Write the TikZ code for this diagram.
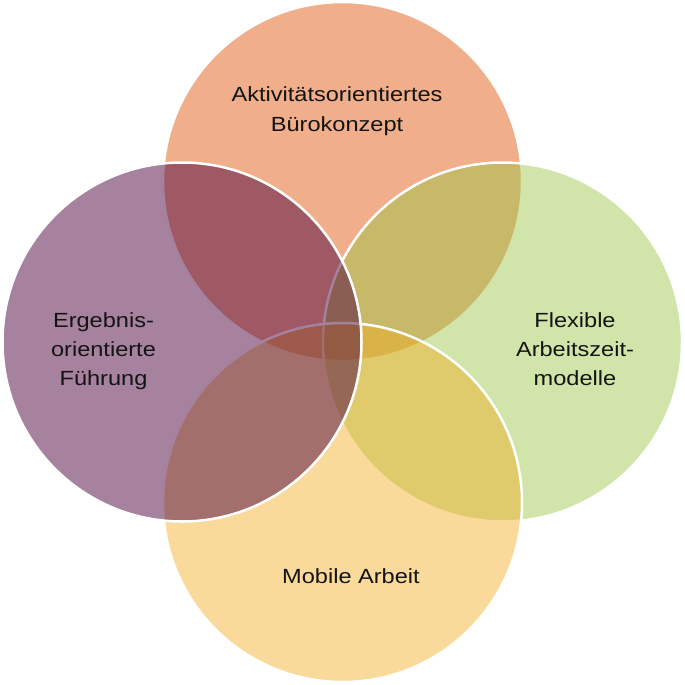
\documentclass[tikz,border=0pt]{standalone}
\usepackage{fontspec}
\setmainfont{Liberation Sans}[FakeStretch=1.15]
\definecolor{cOrange}{RGB}{240,174,138}
\definecolor{cGreen}{RGB}{153,197,66}
\definecolor{cYellow}{RGB}{242,173,33}
\definecolor{cPurple}{RGB}{77,5,63}
\definecolor{cText}{RGB}{20,20,20}
\tikzset{
  venn/.style={circle, minimum size=359pt, inner sep=0pt, draw=white, line width=2.5pt},
  lbl/.style={anchor=base, inner sep=0pt, text=cText, font=\fontsize{20.5}{29}\selectfont}
}
\begin{document}
\begin{tikzpicture}[x=1pt,y=-1pt]
\useasboundingbox (0,0) rectangle (685,685);
\node[venn, fill=cOrange] (top) at (342.5,181.5) {};
\node[venn, fill=cGreen, fill opacity=0.45] (right) at (502.5,342) {};
\node[venn, fill=cYellow, fill opacity=0.45] (bottom) at (342.5,502.5) {};
\node[venn, fill=cPurple, fill opacity=0.5] (left) at (182,342) {};
\node[lbl] (t1) at (337,101.7) {Aktivitätsorientiertes};
\node[lbl] (t2) at (337,131.7) {Bürokonzept};
\node[lbl] (l1) at (103.5,327) {Ergebnis-};
\node[lbl] (l2) at (103.5,356.5) {orientierte};
\node[lbl] (l3) at (103.5,385) {Führung};
\node[lbl] (r1) at (575,327) {Flexible};
\node[lbl] (r2) at (575,356.5) {Arbeitszeit-};
\node[lbl] (r3) at (575,385) {modelle};
\node[lbl] (b1) at (351,583.3) {Mobile Arbeit};
\end{tikzpicture}
\end{document}
